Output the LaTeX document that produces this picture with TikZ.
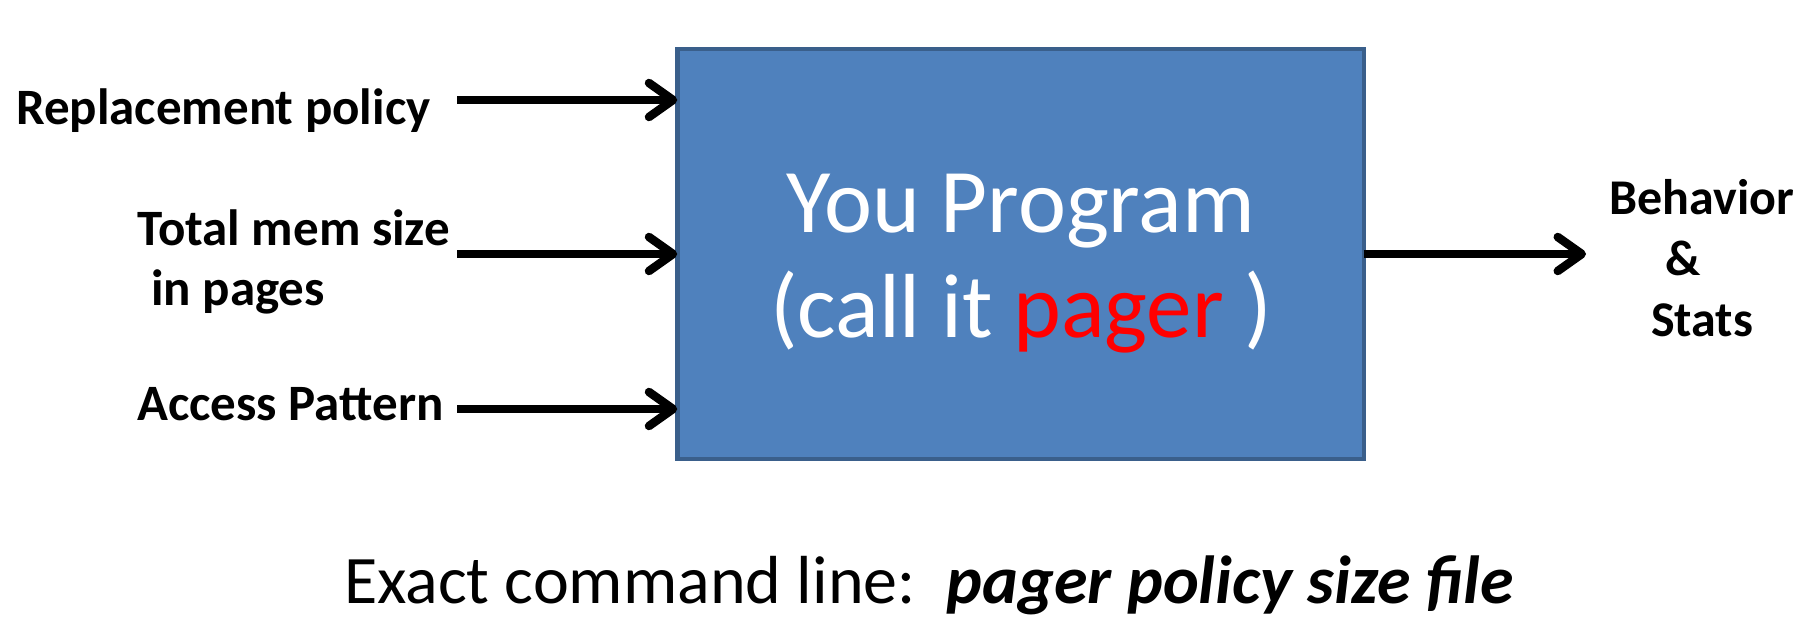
\documentclass[tikz,border=0pt]{standalone}
\usepackage{fontspec}
\setmainfont{Carlito}
\usetikzlibrary{arrows.meta}
\definecolor{boxblue}{HTML}{4F81BD}
\definecolor{boxedge}{HTML}{3A5F8B}
\begin{document}
\begin{tikzpicture}[x=1pt,y=-1pt,
  lab/.style={font=\fontsize{51}{60}\selectfont\bfseries, inner sep=0pt},
  arr/.style={line width=8.5pt, line cap=butt, -{Straight Barb[length=24pt,width=34pt,round]}}]
\useasboundingbox (0,0) rectangle (1818,631);
\node[draw=boxedge, line width=4.5pt, fill=boxblue, minimum width=686.5pt, minimum height=409.5pt, inner sep=0pt, outer sep=0pt] (box) at (1020.5,254) {};
\node[align=center, text=white, font=\fontsize{91}{105}\selectfont, inner sep=0pt, anchor=base] (prog) at (1021,337) {You Program\\(call it \textcolor{red}{pager} )};
\node[lab, anchor=base west] (l1) at (16,125) {Replacement policy};
\node[lab, anchor=west, align=left] (l2) at (137,262) {Total mem size\\\hspace{14pt}in pages};
\node[lab, anchor=west] (l3) at (137,404) {Access Pattern};
\node[lab, align=center, font=\fontsize{50}{61}\selectfont\bfseries] (out) at (1702,258) {Behavior\\\hspace{-38pt}\&\\Stats};
\node[inner sep=0pt, font=\fontsize{68}{72}\selectfont, anchor=base] (cmd) at (929,603) {Exact command line:\ \ \textbf{\textit{pager policy size file}}};
\coordinate (s1) at (457,100);
\coordinate (s2) at (457,254);
\coordinate (s3) at (457,409);
\coordinate (e4) at (1586,254);
\draw[arr] (s1) -- (box.west |- s1);
\draw[arr] (s2) -- (box.west |- s2);
\draw[arr] (s3) -- (box.west |- s3);
\draw[arr] (box.east |- e4) -- (e4);
\end{tikzpicture}
\end{document}
